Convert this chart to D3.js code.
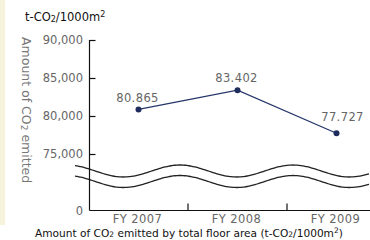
<!DOCTYPE html>
<html>
<head>
<meta charset="utf-8">
<script src="https://cdn.jsdelivr.net/npm/d3@7.9.0/dist/d3.min.js"></script>
<style>
  body { margin: 0; background: #fff; }
  svg { display: block; font-family: "DejaVu Sans", sans-serif; }
</style>
</head>
<body>
<svg id="chart" width="370" height="240"></svg>
<script>
// chart data
const years = ["FY 2007", "FY 2008", "FY 2009"];
const emissions = [80865, 83402, 77727];
const yTicks = [75000, 80000, 85000, 90000];
const yTickLabels = ["75,000", "80,000", "85,000", "90,000"];

const svg = d3.select("#chart");

// beige strip on the left
svg.append("rect").attr("x", 0).attr("y", 0).attr("width", 5).attr("height", 225).attr("fill", "#f7f2dc");

const x = d3.scaleBand().domain(years).range([89, 386]);
const y = d3.scaleLinear().domain([75000, 90000]).range([154, 40]);
const zeroY = 210.5;
const axisX = 89.5;

// wavy break lines
const waveX = d3.range(75, 371, 2);
const wave = d3.line().x(d => d).curve(d3.curveBasis);
[171, 181.5].forEach(mid => {
  svg.append("path")
    .attr("d", wave.y(d => mid - 6 * Math.cos((d - 180) / 113 * 2 * Math.PI))(waveX))
    .attr("fill", "none").attr("stroke", "#222").attr("stroke-width", 1.3);
});

// y axis
svg.append("line").attr("x1", axisX).attr("x2", axisX).attr("y1", y(90000)).attr("y2", zeroY)
  .attr("stroke", "#111").attr("stroke-width", 1.2);
yTicks.forEach((t, i) => {
  svg.append("line").attr("x1", axisX).attr("x2", axisX + 6).attr("y1", y(t) + 0.5).attr("y2", y(t) + 0.5)
    .attr("stroke", "#111").attr("stroke-width", 1.2);
  svg.append("text").attr("x", 83).attr("y", y(t) + 4).attr("text-anchor", "end")
    .attr("font-size", 11.5).attr("fill", "#666").text(yTickLabels[i]);
});
svg.append("text").attr("x", 83).attr("y", zeroY + 4).attr("text-anchor", "end")
  .attr("font-size", 11.5).attr("fill", "#666").text("0");

// x axis
svg.append("line").attr("x1", axisX).attr("x2", 370).attr("y1", zeroY).attr("y2", zeroY)
  .attr("stroke", "#111").attr("stroke-width", 1.2);
years.slice(1).forEach(yr => {
  svg.append("line").attr("x1", x(yr)).attr("x2", x(yr)).attr("y1", zeroY).attr("y2", zeroY - 7)
    .attr("stroke", "#111").attr("stroke-width", 1.2);
});
years.forEach(yr => {
  svg.append("text").attr("x", x(yr) + x.bandwidth() / 2 - 1).attr("y", 223).attr("text-anchor", "middle")
    .attr("font-size", 11.5).attr("letter-spacing", 0.4).attr("fill", "#666").text(yr);
});

// line + points
const cx = (d, i) => x(years[i]) + x.bandwidth() / 2;
svg.append("path")
  .attr("d", d3.line().x(cx).y(d => y(d))(emissions))
  .attr("fill", "none").attr("stroke", "#25356a").attr("stroke-width", 1.3);
svg.selectAll("circle.pt").data(emissions).join("circle")
  .attr("cx", cx).attr("cy", d => y(d)).attr("r", 3).attr("fill", "#1f2d5e");

const fmt = d3.formatLocale({ decimal: ",", thousands: ".", grouping: [3], currency: ["", ""] }).format(",d");
const labelDx = [-1, -1, 6];
const labelDy = [-7, -8, -12];
svg.selectAll("text.val").data(emissions).join("text")
  .attr("x", (d, i) => cx(d, i) + labelDx[i]).attr("y", (d, i) => y(d) + labelDy[i])
  .attr("text-anchor", "middle").attr("font-size", 11.5).attr("letter-spacing", 0.4)
  .attr("fill", "#666").text(d => fmt(d));

// unit title
const unit = svg.append("text").attr("x", 25).attr("y", 21).attr("font-size", 11.5).attr("fill", "#111");
unit.append("tspan").text("t-CO");
unit.append("tspan").attr("font-size", 8).attr("dy", 1).text("2");
unit.append("tspan").attr("dy", -1).text("/1000m");
unit.append("tspan").attr("font-size", 8).attr("dy", -4).text("2");

// rotated y title
const yt = svg.append("text").attr("transform", "translate(22,37) rotate(90)")
  .attr("font-size", 12.5).attr("fill", "#777");
yt.append("tspan").text("Amount of CO");
yt.append("tspan").attr("font-size", 9).attr("dy", 1).text("2");
yt.append("tspan").attr("dy", -1).text(" emitted");

// caption
const cap = svg.append("text").attr("x", 35).attr("y", 237).attr("font-size", 10.6).attr("fill", "#111");
cap.append("tspan").text("Amount of CO");
cap.append("tspan").attr("font-size", 7.5).text("2");
cap.append("tspan").text(" emitted by total floor area (t-CO");
cap.append("tspan").attr("font-size", 7.5).text("2");
cap.append("tspan").text("/1000m");
cap.append("tspan").attr("font-size", 7.5).attr("dy", -4).text("2");
cap.append("tspan").attr("dy", 4).text(")");
</script>
</body>
</html>
